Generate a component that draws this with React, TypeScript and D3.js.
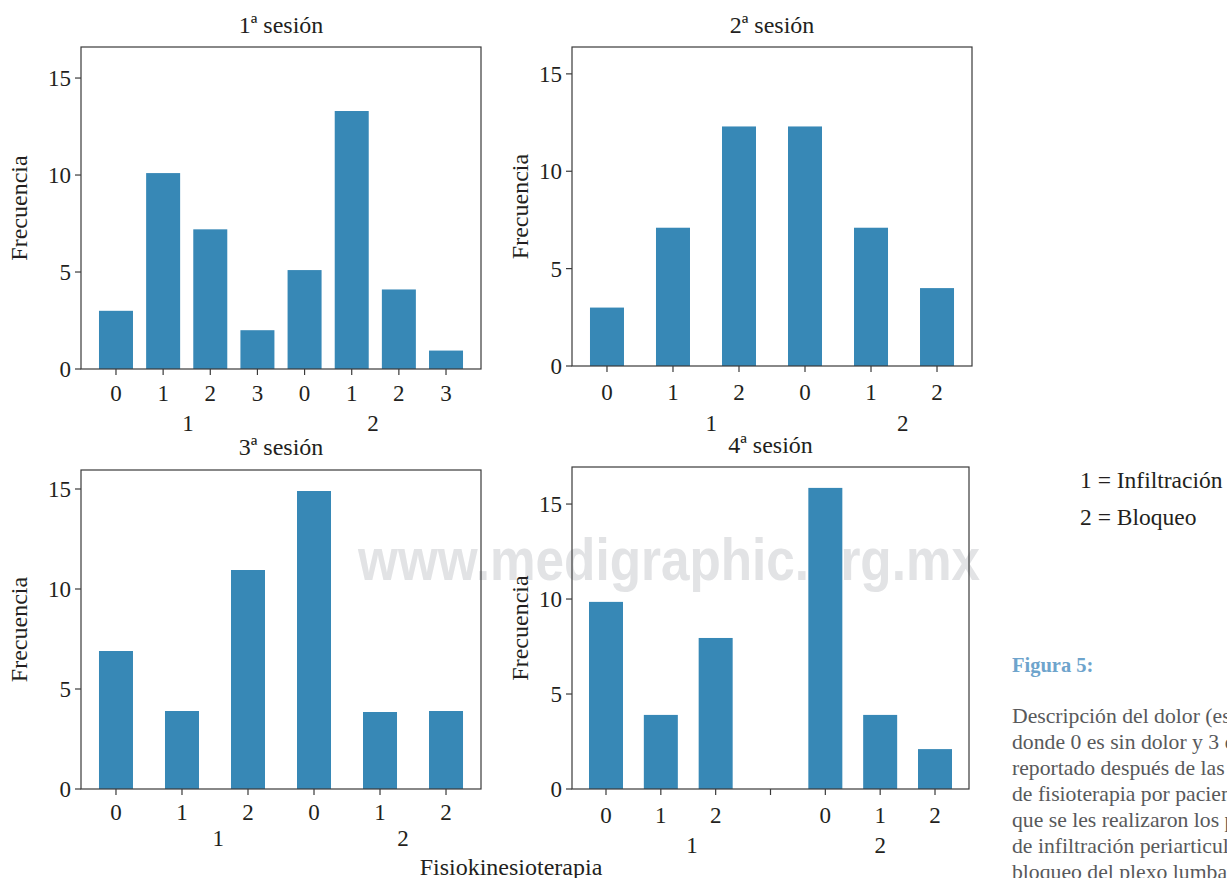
import React from "react";
import * as d3 from "d3";

// ---- data ----
const sessionTitles = ["1ª sesión", "2ª sesión", "3ª sesión", "4ª sesión"];

const s1Pain = ["0", "1", "2", "3", "0", "1", "2", "3"];
const s1Freq = [3, 10.1, 7.2, 2, 5.1, 13.3, 4.1, 0.95];

const s2Pain = ["0", "1", "2", "0", "1", "2"];
const s2Freq = [3, 7.1, 12.3, 12.3, 7.1, 4];

const s3Pain = ["0", "1", "2", "0", "1", "2"];
const s3Freq = [6.9, 3.9, 10.95, 14.9, 3.85, 3.9];

const s4Pain = ["0", "1", "2", "", "0", "1", "2"];
const s4Freq = [9.85, 3.9, 7.95, 0, 15.85, 3.9, 2.1];

const groupLabels = ["1", "2"];
const yTicks = [0, 5, 10, 15];

const legendLines = ["1 = Infiltración", "2 = Bloqueo"];
const figureLabel = "Figura 5:";
const captionLines = [
  "Descripción del dolor (escala numérica)",
  "donde 0 es sin dolor y 3 dolor intenso,",
  "reportado después de las sesiones",
  "de fisioterapia por pacientes a los",
  "que se les realizaron los procedimientos",
  "de infiltración periarticular y",
  "bloqueo del plexo lumbar.",
];
const xAxisTitle = "Fisiokinesioterapia";
const yAxisTitle = "Frecuencia";
const watermark = "www.medigraphic.org.mx";

// ---- layout (positions / styles) ----
const panels = [
  { pain: s1Pain, freq: s1Freq, left: 81, top: 47, right: 481, bottom: 369, pad: 0.742, barW: 34, yMax: 16.6, groupPos: [1.53, 5.45], subDy: 24, grpDy: 54, titleY: 25, ylabX: 19 },
  { pain: s2Pain, freq: s2Freq, left: 572, top: 47, right: 972, bottom: 366, pad: 0.53, barW: 34, yMax: 16.38, groupPos: [1.58, 4.48], subDy: 26, grpDy: 57, titleY: 25, ylabX: 520 },
  { pain: s3Pain, freq: s3Freq, left: 81, top: 470, right: 481, bottom: 789, pad: 0.53, barW: 34, yMax: 15.95, groupPos: [1.55, 4.35], subDy: 23, grpDy: 49, titleY: 447, ylabX: 19 },
  { pain: s4Pain, freq: s4Freq, left: 572, top: 467, right: 969, bottom: 789, pad: 0.62, barW: 34, yMax: 16.95, groupPos: [1.57, 5.0], subDy: 26, grpDy: 56, titleY: 445, ylabX: 520 },
];

const BAR = "#3788b6";
const INK = "#231f20";
const FRAME = "#3a3a3a";
const SERIF = "'Liberation Serif', 'Times New Roman', 'DejaVu Serif', serif";
const FS = 23;
const FS_TITLE = 24;

function Panel({ p, title }: { p: (typeof panels)[number]; title: string }) {
  const n = p.freq.length;
  const x = d3.scaleLinear().domain([-p.pad, n - 1 + p.pad]).range([p.left, p.right]);
  const y = d3.scaleLinear().domain([0, p.yMax]).range([p.bottom, p.top]);
  const idx = d3.range(n);
  return (
    <g>
      {idx.map((i) =>
        p.freq[i] > 0 ? (
          <rect
            key={"b" + i}
            x={x(i) - p.barW / 2}
            width={p.barW}
            y={y(p.freq[i])}
            height={y(0) - y(p.freq[i])}
            fill={BAR}
          />
        ) : null
      )}
      <rect
        x={p.left}
        y={p.top}
        width={p.right - p.left}
        height={p.bottom - p.top}
        fill="none"
        stroke={FRAME}
        strokeWidth={1.2}
      />
      {yTicks.map((t) => (
        <g key={"y" + t}>
          <line x1={p.left - 6} x2={p.left} y1={y(t)} y2={y(t)} stroke={FRAME} strokeWidth={1.2} />
          <text x={p.left - 10} y={y(t)} dy="0.35em" textAnchor="end" fontSize={FS} fill={INK} fontFamily={SERIF}>
            {t}
          </text>
        </g>
      ))}
      {idx.map((i) => (
        <g key={"x" + i}>
          <line x1={x(i)} x2={x(i)} y1={p.bottom} y2={p.bottom + 6} stroke={FRAME} strokeWidth={1.2} />
          <text x={x(i)} y={p.bottom + p.subDy} dy="0.35em" textAnchor="middle" fontSize={FS} fill={INK} fontFamily={SERIF}>
            {p.pain[i]}
          </text>
        </g>
      ))}
      {groupLabels.map((g, k) => (
        <text key={"g" + k} x={x(p.groupPos[k])} y={p.bottom + p.grpDy} dy="0.35em" textAnchor="middle" fontSize={FS} fill={INK} fontFamily={SERIF}>
          {g}
        </text>
      ))}
      <text x={(p.left + p.right) / 2} y={p.titleY} dy="0.35em" textAnchor="middle" fontSize={FS_TITLE} fill={INK} fontFamily={SERIF}>
        {title}
      </text>
      <text
        transform={`translate(${p.ylabX},${(p.top + p.bottom) / 2}) rotate(-90)`}
        dy="0.35em"
        textAnchor="middle"
        fontSize={FS_TITLE}
        fill={INK}
        fontFamily={SERIF}
      >
        {yAxisTitle}
      </text>
    </g>
  );
}

export default function App() {
  return (
    <svg
      width={1227}
      height={878}
      viewBox="0 0 1227 878"
      style={{ position: "absolute", left: 0, top: 0, background: "#ffffff", display: "block" }}
    >
      <rect x={0} y={0} width={1227} height={878} fill="#ffffff" />
      <text
        x={358}
        y={580}
        fontSize={60}
        fontWeight="bold"
        fontFamily="'Liberation Sans', Arial, sans-serif"
        fill="#e2e3e5"
        textLength={622}
        lengthAdjust="spacingAndGlyphs"
      >
        {watermark}
      </text>
      {panels.map((p, i) => (
        <Panel key={i} p={p} title={sessionTitles[i]} />
      ))}
      <text x={511} y={867} dy="0.35em" textAnchor="middle" fontSize={FS_TITLE} fill={INK} fontFamily={SERIF}>
        {xAxisTitle}
      </text>
      {legendLines.map((l, i) => (
        <text key={"l" + i} x={1080} y={480 + i * 37} dy="0.35em" fontSize={23.5} fill={INK} fontFamily={SERIF}>
          {l}
        </text>
      ))}
      <text x={1012} y={665} dy="0.35em" fontSize={20.5} fontWeight="bold" fill="#6ea4cc" fontFamily={SERIF}>
        {figureLabel}
      </text>
      {captionLines.map((c, i) => (
        <text key={"c" + i} x={1012} y={715 + i * 26.1} dy="0.35em" fontSize={21.7} fill="#58595b" fontFamily={SERIF}>
          {c}
        </text>
      ))}
    </svg>
  );
}
